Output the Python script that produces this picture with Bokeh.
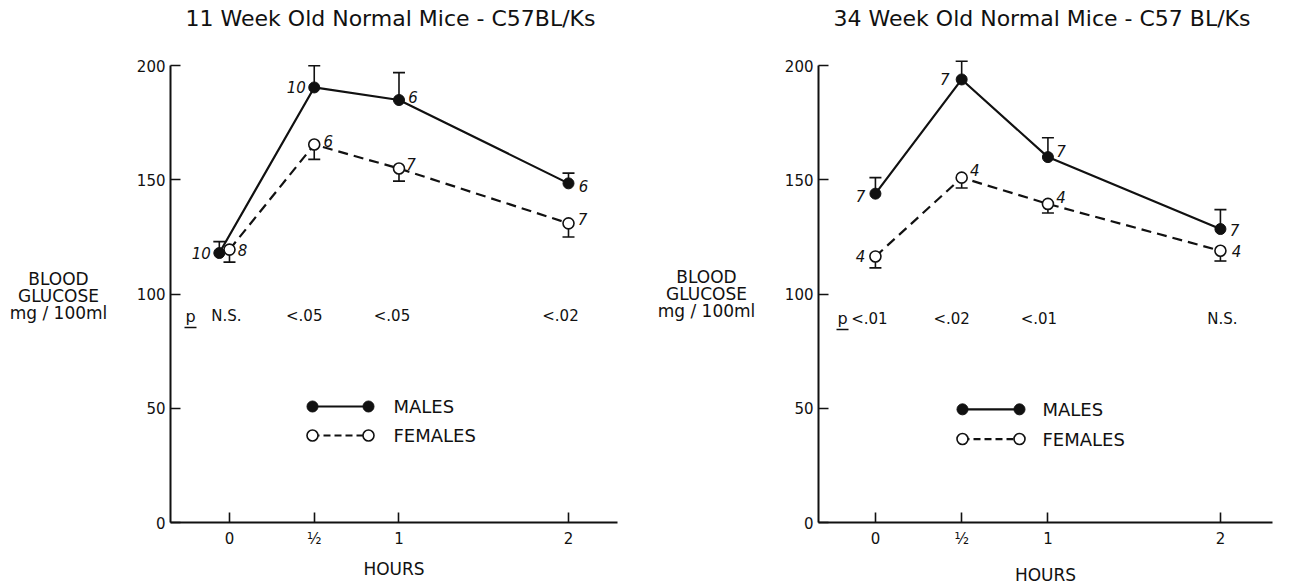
from bokeh.plotting import figure
from bokeh.layouts import row
from bokeh.models import Range1d, FixedTicker, Label, ColumnDataSource, Title
from bokeh.embed import file_html
from bokeh.resources import INLINE
from bokeh.core.properties import value

# ---------------- data ----------------
hours = [0, 0.5, 1, 2]
hour_tick_labels = {0: "0", 0.5: "½", 1: "1", 2: "2"}
glucose_ticks = [0, 50, 100, 150, 200]
legend_labels = ["MALES", "FEMALES"]
titles = ["11  Week Old Normal Mice - C57BL/Ks", "34  Week Old Normal Mice - C57 BL/Ks"]
y_label_lines = ["BLOOD", "GLUCOSE", "mg / 100ml"]
x_label = "HOURS"

# 11 week old mice
male_hours_11 = [-0.06, 0.5, 1, 2]
male_mean_11 = [118, 190.5, 185, 148.5]
male_err_11 = [5, 9.5, 12, 4.5]
male_n_11 = ["10", "10", "6", "6"]
female_hours_11 = [0, 0.5, 1, 2]
female_mean_11 = [119.5, 165.5, 155, 131]
female_err_11 = [5.5, 6.5, 5.5, 6]
female_n_11 = ["8", "6", "7", "7"]
p_values_11 = ["N.S.", "<.05", "<.05", "<.02"]

# 34 week old mice
male_hours_34 = [0, 0.5, 1, 2]
male_mean_34 = [144, 194, 160, 128.5]
male_err_34 = [7, 8, 8.5, 8.5]
male_n_34 = ["7", "7", "7", "7"]
female_hours_34 = [0, 0.5, 1, 2]
female_mean_34 = [116.5, 151, 139.5, 119]
female_err_34 = [5, 4.5, 4, 4.5]
female_n_34 = ["4", "4", "4", "4"]
p_values_34 = ["<.01", "<.02", "<.01", "N.S."]

FONT = "DejaVu Sans"
INK = "#111111"
H = 588
LABEL_COL = 120  # width of the column holding the y-axis title


def make_ylabel_column(ft, fb):
    """A bare figure holding the 3-line y-axis title; its y range is in canvas pixels."""
    q = figure(width=LABEL_COL, height=H, output_backend="svg", toolbar_location=None,
               x_range=Range1d(0, LABEL_COL), y_range=Range1d(fb, ft),
               x_axis_location=None, y_axis_location=None,
               min_border_left=0, min_border_right=0, min_border_top=ft,
               min_border_bottom=H - fb)
    q.outline_line_color = None
    q.grid.visible = False
    q.background_fill_color = "white"
    q.border_fill_color = "white"
    src = ColumnDataSource(dict(x=[58, 58, 58], y=[278, 295, 312], t=y_label_lines))
    q.text("x", "y", text="t", source=src, text_font=value(FONT), text_font_size="17px",
           text_align="center", text_baseline="middle", text_color=INK)
    return q


def make_panel(title, geom, male, female, p_vals, layout):
    W = geom["width"]
    fl, fr, ft, fb = geom["fl"], geom["fr"], geom["ft"], geom["fb"]
    xs, xe = geom["xs"], geom["xe"]
    ys, ye = 0, 215

    def px2x(px):
        return xs + (px - fl) / (fr - fl) * (xe - xs)

    def py2y(py):
        return ye - (py - ft) / (fb - ft) * (ye - ys)

    p = figure(width=W, height=H, output_backend="svg", toolbar_location=None,
               x_range=Range1d(xs, xe), y_range=Range1d(ys, ye),
               min_border_left=fl, min_border_right=W - fr,
               min_border_top=ft, min_border_bottom=H - fb)
    p.outline_line_color = None
    p.grid.visible = False
    p.background_fill_color = "white"
    p.border_fill_color = "white"

    p.add_layout(Title(text=title, align="center", text_font=FONT, text_font_size="22px",
                       text_font_style="normal", text_color=INK, standoff=2,
                       offset=layout["title_off"]), "above")

    # axes
    for ax in (p.xaxis[0], p.yaxis[0]):
        ax.axis_line_color = INK
        ax.axis_line_width = 2
        ax.major_tick_line_color = INK
        ax.major_tick_line_width = 1.6
        ax.major_tick_in = 10
        ax.major_tick_out = 0
        ax.minor_tick_line_color = None
        ax.major_label_text_font = FONT
        ax.major_label_text_font_size = "15px"
        ax.major_label_text_color = INK
    p.xaxis.ticker = FixedTicker(ticks=hours)
    p.xaxis.major_label_overrides = hour_tick_labels
    p.xaxis.major_label_standoff = 7
    p.xaxis.axis_label = x_label
    p.xaxis.axis_label_text_font = FONT
    p.xaxis.axis_label_text_font_style = "normal"
    p.xaxis.axis_label_text_font_size = "17px"
    p.xaxis.axis_label_text_color = INK
    p.xaxis.axis_label_standoff = layout["hours_standoff"]
    p.yaxis.ticker = FixedTicker(ticks=glucose_ticks)
    p.yaxis.bounds = (0, 200)
    p.yaxis.major_label_standoff = 5

    # series
    mx, my, me, mn = male
    fx, fy, fe, fn = female
    ms = ColumnDataSource(dict(x=mx, y=my, top=[a + b for a, b in zip(my, me)], n=mn,
                               dx=layout["mdx"], dy=layout["mdy"]))
    fs = ColumnDataSource(dict(x=fx, y=fy, bot=[a - b for a, b in zip(fy, fe)], n=fn,
                               dx=layout["fdx"], dy=layout["fdy"]))

    p.line("x", "y", source=fs, line_color=INK, line_width=2.2, line_dash="10 6")
    p.line("x", "y", source=ms, line_color=INK, line_width=2.2)
    p.segment(x0="x", y0="y", x1="x", y1="top", source=ms, line_color=INK, line_width=1.6)
    p.scatter("x", "top", source=ms, marker="dash", size=12, line_color=INK, line_width=1.6)
    p.segment(x0="x", y0="y", x1="x", y1="bot", source=fs, line_color=INK, line_width=1.6)
    p.scatter("x", "bot", source=fs, marker="dash", size=12, line_color=INK, line_width=1.6)
    p.scatter("x", "y", source=ms, marker="circle", size=11, fill_color=INK, line_color=INK)
    p.scatter("x", "y", source=fs, marker="circle", size=11, fill_color="white",
              line_color=INK, line_width=1.6)

    for src in (ms, fs):
        p.text("x", "y", text="n", source=src, x_offset="dx", y_offset="dy",
               text_font=value(FONT), text_font_style="italic", text_font_size="15px",
               text_align="center", text_baseline="middle", text_color=INK)

    # p-value row
    pv = ColumnDataSource(dict(x=hours, y=[layout["p_y"]] * 4, t=p_vals, dx=layout["p_dx"]))
    p.text("x", "y", text="t", source=pv, x_offset="dx", text_font=value(FONT),
           text_font_size="15px", text_align="center", text_baseline="middle", text_color=INK)
    p.add_layout(Label(x=px2x(layout["p_px"]), y=layout["p_y"], text="p", text_font=FONT,
                       text_font_size="16px", text_align="center", text_baseline="middle",
                       text_color=INK))
    uy = py2y(layout["u_py"])
    p.segment(x0=[px2x(layout["p_px"] - 6)], y0=[uy], x1=[px2x(layout["p_px"] + 6)], y1=[uy],
              line_color=INK, line_width=1.6)

    # legend
    lx0, lx1, ltx = px2x(layout["leg_x0"]), px2x(layout["leg_x1"]), px2x(layout["leg_tx"])
    lym, lyf = py2y(layout["leg_my"]), py2y(layout["leg_fy"])
    p.line([lx0, lx1], [lym, lym], line_color=INK, line_width=2.2)
    p.scatter([lx0, lx1], [lym, lym], marker="circle", size=11, fill_color=INK, line_color=INK)
    p.line([lx0, lx1], [lyf, lyf], line_color=INK, line_width=2.2, line_dash="7 4")
    p.scatter([lx0, lx1], [lyf, lyf], marker="circle", size=11, fill_color="white",
              line_color=INK, line_width=1.6)
    for lab, yy in zip(legend_labels, (lym, lyf)):
        p.add_layout(Label(x=ltx, y=yy, text=lab, text_font=FONT, text_font_size="18px",
                           text_align="left", text_baseline="middle", text_color=INK))
    return p


# pixel geometry is expressed in each panel's own canvas (which starts LABEL_COL px in)
geom_left = dict(width=648 - LABEL_COL, fl=50, fr=497, ft=31, fb=522,
                 xs=-0.348, xe=(617 - 229) / 169.5)
geom_right = dict(width=649 - LABEL_COL, fl=50, fr=504, ft=30, fb=526,
                  xs=-0.330, xe=-0.330 + 454 / 172.5)

off = LABEL_COL
layout_left = dict(
    mdx=[-18, -18, 14, 15], mdy=[0, 0, -3, 3],
    fdx=[13, 14, 12, 14], fdy=[0, -4, -5, -4],
    p_y=90.3, p_dx=[-3, -10, -7, -8], p_px=190 - off, u_py=327,
    leg_x0=312 - off, leg_x1=368 - off, leg_tx=393 - off, leg_my=406, leg_fy=435,
    title_off=0, hours_standoff=8,
)
layout_right = dict(
    mdx=[-15, -17, 13, 14], mdy=[2, 0, -6, 1],
    fdx=[-15, 13, 13, 16], fdy=[0, -8, -7, 0],
    p_y=89.3, p_dx=[-6, -10, -9, 2], p_px=194 - off, u_py=331,
    leg_x0=314 - off, leg_x1=371 - off, leg_tx=394 - off, leg_my=411.7, leg_fy=441.7,
    title_off=0, hours_standoff=14,
)

left = make_panel(titles[0], geom_left,
                  (male_hours_11, male_mean_11, male_err_11, male_n_11),
                  (female_hours_11, female_mean_11, female_err_11, female_n_11),
                  p_values_11, layout_left)
right = make_panel(titles[1], geom_right,
                   (male_hours_34, male_mean_34, male_err_34, male_n_34),
                   (female_hours_34, female_mean_34, female_err_34, female_n_34),
                   p_values_34, layout_right)

page = row(make_ylabel_column(geom_left["ft"], geom_left["fb"]), left,
           make_ylabel_column(geom_right["ft"], geom_right["fb"]), right, spacing=0)
open("out.html", "w").write(file_html(page, INLINE))
